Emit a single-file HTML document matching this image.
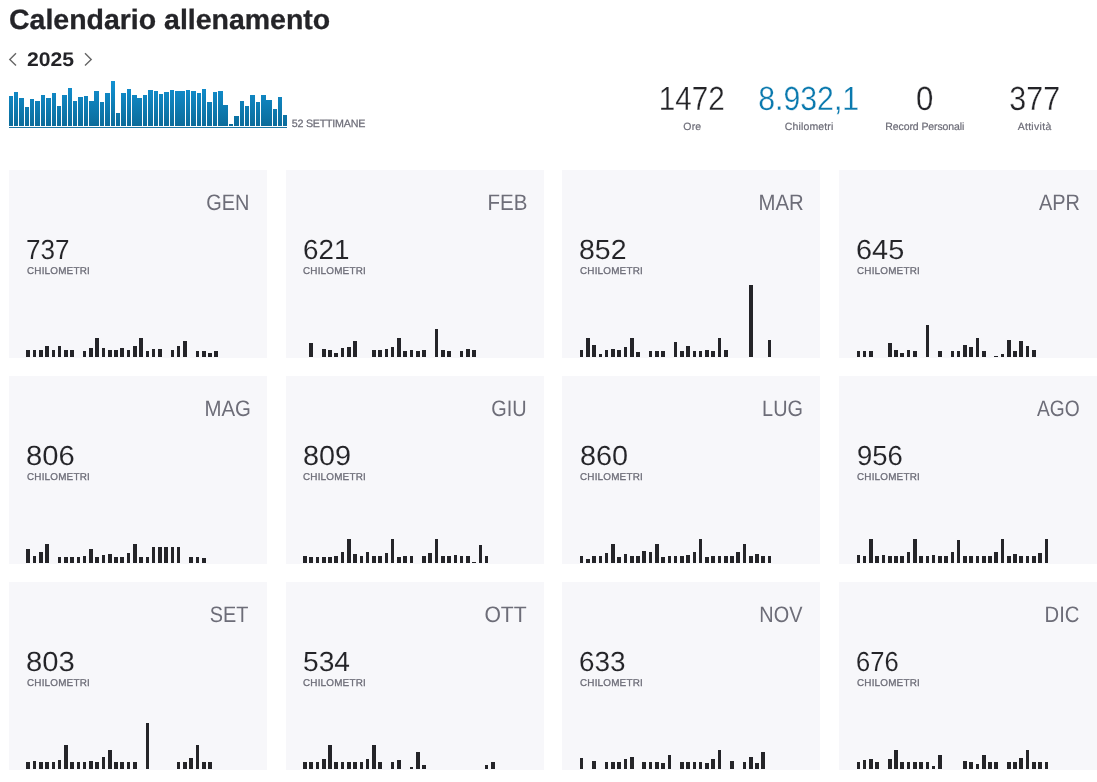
<!DOCTYPE html>
<html lang="it"><head><meta charset="utf-8"><title>Calendario allenamento</title>
<style>
html,body{margin:0;padding:0;background:#fff;}
body{width:1097px;height:782px;position:relative;overflow:hidden;font-family:"Liberation Sans",Arial,sans-serif;color:#242428;text-rendering:geometricPrecision;}
.abs{position:absolute;white-space:nowrap;line-height:1;}
h1{position:absolute;margin:0;left:8.6px;top:4.7px;font-size:28px;font-weight:700;line-height:30px;white-space:nowrap;color:#242428;transform:scaleX(1.017);transform-origin:0 0;-webkit-text-stroke:0.3px #242428;}
.year{left:26.5px;top:49px;font-size:19.7px;font-weight:700;line-height:20px;color:#242428;transform:translateY(0.7px) scaleX(1.075);transform-origin:0 0;}
.wk{left:291.7px;top:118px;font-size:10.7px;line-height:10px;color:#6d6d78;letter-spacing:-0.22px;-webkit-text-stroke:0.25px #6d6d78;transform:translateY(0.9px);}
.stat{position:absolute;top:81.8px;width:140px;text-align:center;}
.stat .n{font-size:33.6px;line-height:34px;color:#242428;white-space:nowrap;-webkit-text-stroke:0.3px #fff;}
.stat .l{font-size:10.5px;line-height:12px;color:#6d6d78;margin-top:4px;white-space:nowrap;-webkit-text-stroke:0.2px #6d6d78;transform:translateY(0.6px);}
.stat.blue .n{color:#0a79ae;}
.card{position:absolute;width:258px;height:187.7px;background:#f7f7fa;}
.card .m{position:absolute;right:17.8px;top:21.2px;font-size:22.35px;line-height:24px;color:#6d6d78;white-space:nowrap;transform:scaleX(0.88);transform-origin:100% 0;}
.card .v{position:absolute;left:16.7px;top:65.4px;font-size:27.6px;line-height:28px;color:#242428;white-space:nowrap;transform-origin:0 0;-webkit-text-stroke:0.1px #f7f7fa;}
.card .u{position:absolute;left:17.7px;top:96.1px;font-size:9.9px;line-height:12px;color:#6d6d78;white-space:nowrap;letter-spacing:0.19px;-webkit-text-stroke:0.3px #6d6d78;transform:translateY(0.2px) scaleX(1.002);transform-origin:0 0;}
svg{position:absolute;left:0;top:0;}
</style></head><body>
<h1>Calendario allenamento</h1>
<div class="abs year">2025</div>
<div class="card" style="left:9px;top:170px"><div class="m" style="right:17.4px;transform:scaleX(0.893)">GEN</div><div class="v" style="left:16.7px;transform:translateY(0.7px) scaleX(0.944)">737</div><div class="u">CHILOMETRI</div></div>
<div class="card" style="left:285.67px;top:170px"><div class="m" style="right:16.7px;transform:scaleX(0.919)">FEB</div><div class="v" style="left:17.0px;transform:translateY(0.7px) scaleX(1.009)">621</div><div class="u">CHILOMETRI</div></div>
<div class="card" style="left:562.33px;top:170px"><div class="m" style="right:17.1px;transform:scaleX(0.91)">MAR</div><div class="v" style="left:17.1px;transform:translateY(0.7px) scaleX(1.033)">852</div><div class="u">CHILOMETRI</div></div>
<div class="card" style="left:839px;top:170px"><div class="m" style="right:16.9px;transform:scaleX(0.893)">APR</div><div class="v" style="left:16.6px;transform:translateY(0.7px) scaleX(1.047)">645</div><div class="u">CHILOMETRI</div></div>
<div class="card" style="left:9px;top:376px"><div class="m" style="right:15.7px;transform:scaleX(0.913)">MAG</div><div class="v" style="left:17.2px;transform:translateY(0.7px) scaleX(1.06)">806</div><div class="u">CHILOMETRI</div></div>
<div class="card" style="left:285.67px;top:376px"><div class="m" style="right:16.5px;transform:scaleX(0.891)">GIU</div><div class="v" style="left:17.7px;transform:translateY(0.7px) scaleX(1.044)">809</div><div class="u">CHILOMETRI</div></div>
<div class="card" style="left:562.33px;top:376px"><div class="m" style="right:17.5px;transform:scaleX(0.889)">LUG</div><div class="v" style="left:17.3px;transform:translateY(0.7px) scaleX(1.046)">860</div><div class="u">CHILOMETRI</div></div>
<div class="card" style="left:839px;top:376px"><div class="m" style="right:17.4px;transform:scaleX(0.858)">AGO</div><div class="v" style="left:17.7px;transform:translateY(0.7px) scaleX(0.995)">956</div><div class="u">CHILOMETRI</div></div>
<div class="card" style="left:9px;top:582px"><div class="m" style="right:18.4px;transform:scaleX(0.889)">SET</div><div class="v" style="left:17.2px;transform:translateY(0.7px) scaleX(1.06)">803</div><div class="u">CHILOMETRI</div></div>
<div class="card" style="left:285.67px;top:582px"><div class="m" style="right:17.0px;transform:scaleX(0.946)">OTT</div><div class="v" style="left:17.4px;transform:translateY(0.7px) scaleX(1.021)">534</div><div class="u">CHILOMETRI</div></div>
<div class="card" style="left:562.33px;top:582px"><div class="m" style="right:18.3px;transform:scaleX(0.889)">NOV</div><div class="v" style="left:17.1px;transform:translateY(0.7px) scaleX(1.011)">633</div><div class="u">CHILOMETRI</div></div>
<div class="card" style="left:839px;top:582px"><div class="m" style="right:17.3px;transform:scaleX(0.906)">DIC</div><div class="v" style="left:16.9px;transform:translateY(0.7px) scaleX(0.926)">676</div><div class="u">CHILOMETRI</div></div>
<svg width="1097" height="782" viewBox="0 0 1097 782">
<defs><linearGradient id="g" gradientUnits="userSpaceOnUse" x1="0" y1="80" x2="0" y2="127"><stop offset="0" stop-color="#1292d4"/><stop offset="1" stop-color="#0b6b99"/></linearGradient></defs>
<path d="M16 53.3 L9.8 59.4 L16 65.5" fill="none" stroke="#666" stroke-width="1.4"/>
<path d="M85 53.3 L91.2 59.4 L85 65.5" fill="none" stroke="#666" stroke-width="1.4"/>
<g fill="url(#g)" shape-rendering="crispEdges">
<rect x="9" y="96" width="4" height="30"/><rect x="14" y="92" width="4" height="34"/><rect x="19" y="98" width="5" height="28"/><rect x="25" y="107" width="4" height="19"/><rect x="30" y="99" width="4" height="27"/><rect x="35" y="101" width="5" height="25"/><rect x="41" y="95" width="4" height="31"/><rect x="46" y="98" width="5" height="28"/><rect x="52" y="93" width="4" height="33"/><rect x="57" y="106" width="4" height="20"/><rect x="62" y="95" width="5" height="31"/><rect x="68" y="88" width="4" height="38"/><rect x="73" y="101" width="4" height="25"/><rect x="78" y="97" width="5" height="29"/><rect x="84" y="96" width="4" height="30"/><rect x="89" y="101" width="5" height="25"/><rect x="94" y="91" width="5" height="35"/><rect x="100" y="102" width="4" height="24"/><rect x="105" y="93" width="5" height="33"/><rect x="111" y="81" width="4" height="45"/><rect x="116" y="113" width="4" height="13"/><rect x="121" y="93" width="5" height="33"/><rect x="127" y="89" width="4" height="37"/><rect x="132" y="95" width="5" height="31"/><rect x="137" y="98" width="5" height="28"/><rect x="143" y="95" width="4" height="31"/><rect x="148" y="90" width="5" height="36"/><rect x="154" y="91" width="4" height="35"/><rect x="159" y="94" width="4" height="32"/><rect x="164" y="92" width="5" height="34"/><rect x="170" y="90" width="4" height="36"/><rect x="175" y="91" width="5" height="35"/><rect x="180" y="91" width="5" height="35"/><rect x="186" y="90" width="4" height="36"/><rect x="191" y="91" width="5" height="35"/><rect x="197" y="93" width="4" height="33"/><rect x="202" y="89" width="4" height="37"/><rect x="207" y="102" width="5" height="24"/><rect x="213" y="92" width="4" height="34"/><rect x="218" y="91" width="5" height="35"/><rect x="223" y="105" width="5" height="21"/><rect x="229" y="124" width="4" height="2"/><rect x="234" y="116" width="5" height="10"/><rect x="240" y="101" width="4" height="25"/><rect x="245" y="106" width="4" height="20"/><rect x="250" y="95" width="5" height="31"/><rect x="256" y="102" width="4" height="24"/><rect x="261" y="95" width="5" height="31"/><rect x="266" y="100" width="6" height="26"/><rect x="273" y="109" width="4" height="17"/><rect x="278" y="97" width="4" height="29"/><rect x="283" y="115" width="4" height="11"/>
<rect x="9" y="127" width="278" height="1" fill="#1c76a3"/>
</g>
<g fill="#242428" shape-rendering="crispEdges">
<rect x="26" y="350" width="4" height="7"/><rect x="33" y="350" width="3" height="7"/><rect x="39" y="350" width="4" height="7"/><rect x="45" y="346" width="4" height="11"/><rect x="52" y="350" width="3" height="7"/><rect x="58" y="346" width="3" height="11"/><rect x="64" y="350" width="4" height="7"/><rect x="70" y="350" width="4" height="7"/><rect x="83" y="351" width="3" height="6"/><rect x="89" y="348" width="4" height="9"/><rect x="95" y="338" width="4" height="19"/><rect x="102" y="348" width="3" height="9"/><rect x="108" y="350" width="4" height="7"/><rect x="114" y="350" width="4" height="7"/><rect x="120" y="348" width="4" height="9"/><rect x="127" y="350" width="3" height="7"/><rect x="133" y="346" width="4" height="11"/><rect x="139" y="338" width="4" height="19"/><rect x="146" y="351" width="3" height="6"/><rect x="152" y="349" width="3" height="8"/><rect x="158" y="349" width="4" height="8"/><rect x="171" y="350" width="3" height="7"/><rect x="177" y="346" width="3" height="11"/><rect x="183" y="341" width="4" height="16"/><rect x="196" y="351" width="3" height="6"/><rect x="202" y="351" width="4" height="6"/><rect x="208" y="353" width="4" height="4"/><rect x="214" y="351" width="4" height="6"/>
<rect x="309" y="343" width="4" height="14"/><rect x="322" y="349" width="4" height="8"/><rect x="328" y="350" width="4" height="7"/><rect x="334" y="353" width="4" height="4"/><rect x="341" y="348" width="3" height="9"/><rect x="347" y="347" width="4" height="10"/><rect x="353" y="341" width="4" height="16"/><rect x="372" y="350" width="4" height="7"/><rect x="378" y="350" width="4" height="7"/><rect x="385" y="349" width="3" height="8"/><rect x="391" y="347" width="3" height="10"/><rect x="397" y="338" width="4" height="19"/><rect x="403" y="351" width="4" height="6"/><rect x="410" y="350" width="3" height="7"/><rect x="416" y="351" width="4" height="6"/><rect x="422" y="350" width="4" height="7"/><rect x="435" y="329" width="3" height="28"/><rect x="441" y="350" width="4" height="7"/><rect x="447" y="351" width="4" height="6"/><rect x="460" y="351" width="3" height="6"/><rect x="466" y="349" width="4" height="8"/><rect x="472" y="350" width="4" height="7"/>
<rect x="580" y="350" width="3" height="7"/><rect x="586" y="338" width="4" height="19"/><rect x="592" y="345" width="4" height="12"/><rect x="599" y="354" width="3" height="3"/><rect x="605" y="350" width="3" height="7"/><rect x="611" y="349" width="4" height="8"/><rect x="617" y="350" width="4" height="7"/><rect x="624" y="347" width="3" height="10"/><rect x="630" y="338" width="4" height="19"/><rect x="636" y="352" width="4" height="5"/><rect x="649" y="351" width="3" height="6"/><rect x="655" y="351" width="4" height="6"/><rect x="661" y="351" width="4" height="6"/><rect x="674" y="342" width="3" height="15"/><rect x="680" y="351" width="4" height="6"/><rect x="686" y="346" width="4" height="11"/><rect x="693" y="351" width="3" height="6"/><rect x="699" y="351" width="3" height="6"/><rect x="705" y="350" width="4" height="7"/><rect x="711" y="351" width="4" height="6"/><rect x="718" y="338" width="3" height="19"/><rect x="724" y="350" width="4" height="7"/><rect x="749" y="285" width="4" height="72"/><rect x="768" y="340" width="3" height="17"/>
<rect x="857" y="351" width="3" height="6"/><rect x="863" y="351" width="3" height="6"/><rect x="869" y="351" width="4" height="6"/><rect x="888" y="343" width="4" height="14"/><rect x="894" y="350" width="4" height="7"/><rect x="900" y="353" width="4" height="4"/><rect x="907" y="350" width="3" height="7"/><rect x="913" y="351" width="4" height="6"/><rect x="926" y="325" width="3" height="32"/><rect x="938" y="351" width="4" height="6"/><rect x="951" y="351" width="3" height="6"/><rect x="957" y="351" width="3" height="6"/><rect x="963" y="345" width="4" height="12"/><rect x="969" y="347" width="4" height="10"/><rect x="976" y="338" width="3" height="19"/><rect x="982" y="351" width="4" height="6"/><rect x="994" y="356" width="4" height="1"/><rect x="1001" y="354" width="3" height="3"/><rect x="1007" y="340" width="4" height="17"/><rect x="1013" y="351" width="4" height="6"/><rect x="1019" y="341" width="4" height="16"/><rect x="1026" y="346" width="3" height="11"/><rect x="1032" y="350" width="4" height="7"/>
<rect x="26" y="549" width="4" height="14"/><rect x="33" y="556" width="3" height="7"/><rect x="39" y="552" width="4" height="11"/><rect x="45" y="544" width="4" height="19"/><rect x="58" y="557" width="3" height="6"/><rect x="64" y="557" width="4" height="6"/><rect x="70" y="557" width="4" height="6"/><rect x="77" y="557" width="3" height="6"/><rect x="83" y="556" width="3" height="7"/><rect x="89" y="549" width="4" height="14"/><rect x="95" y="557" width="4" height="6"/><rect x="102" y="555" width="3" height="8"/><rect x="108" y="554" width="4" height="9"/><rect x="114" y="557" width="4" height="6"/><rect x="120" y="557" width="4" height="6"/><rect x="127" y="553" width="3" height="10"/><rect x="133" y="544" width="4" height="19"/><rect x="139" y="557" width="4" height="6"/><rect x="146" y="557" width="3" height="6"/><rect x="152" y="547" width="3" height="16"/><rect x="158" y="547" width="4" height="16"/><rect x="164" y="547" width="4" height="16"/><rect x="171" y="547" width="3" height="16"/><rect x="177" y="547" width="3" height="16"/><rect x="189" y="557" width="4" height="6"/><rect x="196" y="557" width="3" height="6"/><rect x="202" y="558" width="4" height="5"/>
<rect x="303" y="556" width="4" height="7"/><rect x="309" y="557" width="4" height="6"/><rect x="316" y="557" width="3" height="6"/><rect x="322" y="557" width="4" height="6"/><rect x="328" y="557" width="4" height="6"/><rect x="334" y="556" width="4" height="7"/><rect x="341" y="552" width="3" height="11"/><rect x="347" y="539" width="4" height="24"/><rect x="353" y="554" width="4" height="9"/><rect x="360" y="556" width="3" height="7"/><rect x="366" y="552" width="3" height="11"/><rect x="372" y="556" width="4" height="7"/><rect x="378" y="556" width="4" height="7"/><rect x="385" y="553" width="3" height="10"/><rect x="391" y="539" width="3" height="24"/><rect x="397" y="557" width="4" height="6"/><rect x="403" y="556" width="4" height="7"/><rect x="410" y="556" width="3" height="7"/><rect x="422" y="556" width="4" height="7"/><rect x="428" y="553" width="4" height="10"/><rect x="435" y="539" width="3" height="24"/><rect x="441" y="556" width="4" height="7"/><rect x="447" y="556" width="4" height="7"/><rect x="454" y="555" width="3" height="8"/><rect x="460" y="556" width="3" height="7"/><rect x="466" y="556" width="4" height="7"/><rect x="472" y="562" width="4" height="1"/><rect x="479" y="545" width="3" height="18"/><rect x="485" y="556" width="3" height="7"/>
<rect x="580" y="556" width="3" height="7"/><rect x="586" y="559" width="4" height="4"/><rect x="592" y="556" width="4" height="7"/><rect x="599" y="556" width="3" height="7"/><rect x="605" y="553" width="3" height="10"/><rect x="611" y="544" width="4" height="19"/><rect x="617" y="557" width="4" height="6"/><rect x="624" y="554" width="3" height="9"/><rect x="630" y="556" width="4" height="7"/><rect x="636" y="556" width="4" height="7"/><rect x="642" y="551" width="4" height="12"/><rect x="649" y="552" width="3" height="11"/><rect x="655" y="544" width="4" height="19"/><rect x="661" y="557" width="4" height="6"/><rect x="668" y="556" width="3" height="7"/><rect x="674" y="556" width="3" height="7"/><rect x="680" y="556" width="4" height="7"/><rect x="686" y="555" width="4" height="8"/><rect x="693" y="552" width="3" height="11"/><rect x="699" y="539" width="3" height="24"/><rect x="705" y="557" width="4" height="6"/><rect x="711" y="556" width="4" height="7"/><rect x="718" y="556" width="3" height="7"/><rect x="724" y="556" width="4" height="7"/><rect x="730" y="556" width="4" height="7"/><rect x="736" y="552" width="4" height="11"/><rect x="743" y="544" width="3" height="19"/><rect x="749" y="556" width="4" height="7"/><rect x="755" y="554" width="4" height="9"/><rect x="761" y="556" width="4" height="7"/><rect x="768" y="556" width="3" height="7"/>
<rect x="857" y="555" width="3" height="8"/><rect x="863" y="556" width="3" height="7"/><rect x="869" y="539" width="4" height="24"/><rect x="875" y="556" width="4" height="7"/><rect x="882" y="555" width="3" height="8"/><rect x="888" y="556" width="4" height="7"/><rect x="894" y="556" width="4" height="7"/><rect x="900" y="556" width="4" height="7"/><rect x="907" y="552" width="3" height="11"/><rect x="913" y="539" width="4" height="24"/><rect x="919" y="556" width="4" height="7"/><rect x="926" y="556" width="3" height="7"/><rect x="932" y="555" width="3" height="8"/><rect x="938" y="556" width="4" height="7"/><rect x="944" y="556" width="4" height="7"/><rect x="951" y="552" width="3" height="11"/><rect x="957" y="540" width="3" height="23"/><rect x="963" y="556" width="4" height="7"/><rect x="969" y="556" width="4" height="7"/><rect x="976" y="556" width="3" height="7"/><rect x="982" y="556" width="4" height="7"/><rect x="988" y="556" width="4" height="7"/><rect x="994" y="552" width="4" height="11"/><rect x="1001" y="539" width="3" height="24"/><rect x="1007" y="556" width="4" height="7"/><rect x="1013" y="554" width="4" height="9"/><rect x="1019" y="556" width="4" height="7"/><rect x="1026" y="556" width="3" height="7"/><rect x="1032" y="556" width="4" height="7"/><rect x="1038" y="553" width="4" height="10"/><rect x="1045" y="539" width="3" height="24"/>
<rect x="26" y="762" width="4" height="7"/><rect x="33" y="761" width="3" height="8"/><rect x="39" y="762" width="4" height="7"/><rect x="45" y="762" width="4" height="7"/><rect x="52" y="762" width="3" height="7"/><rect x="58" y="760" width="3" height="9"/><rect x="64" y="745" width="4" height="24"/><rect x="70" y="762" width="4" height="7"/><rect x="77" y="762" width="3" height="7"/><rect x="83" y="762" width="3" height="7"/><rect x="89" y="761" width="4" height="8"/><rect x="95" y="762" width="4" height="7"/><rect x="102" y="757" width="3" height="12"/><rect x="108" y="750" width="4" height="19"/><rect x="114" y="762" width="4" height="7"/><rect x="120" y="762" width="4" height="7"/><rect x="127" y="762" width="3" height="7"/><rect x="133" y="762" width="4" height="7"/><rect x="146" y="723" width="3" height="46"/><rect x="177" y="762" width="3" height="7"/><rect x="183" y="762" width="4" height="7"/><rect x="189" y="758" width="4" height="11"/><rect x="196" y="745" width="3" height="24"/><rect x="202" y="762" width="4" height="7"/><rect x="208" y="762" width="4" height="7"/>
<rect x="303" y="762" width="4" height="7"/><rect x="309" y="762" width="4" height="7"/><rect x="316" y="762" width="3" height="7"/><rect x="322" y="759" width="4" height="10"/><rect x="328" y="745" width="4" height="24"/><rect x="334" y="762" width="4" height="7"/><rect x="341" y="762" width="3" height="7"/><rect x="347" y="762" width="4" height="7"/><rect x="353" y="762" width="4" height="7"/><rect x="360" y="762" width="3" height="7"/><rect x="366" y="759" width="3" height="10"/><rect x="372" y="745" width="4" height="24"/><rect x="378" y="762" width="4" height="7"/><rect x="391" y="762" width="3" height="7"/><rect x="397" y="760" width="4" height="9"/><rect x="410" y="767" width="3" height="2"/><rect x="416" y="752" width="4" height="17"/><rect x="422" y="765" width="4" height="4"/><rect x="485" y="765" width="3" height="4"/><rect x="491" y="762" width="4" height="7"/>
<rect x="580" y="758" width="3" height="11"/><rect x="592" y="761" width="4" height="8"/><rect x="605" y="762" width="3" height="7"/><rect x="611" y="762" width="4" height="7"/><rect x="617" y="762" width="4" height="7"/><rect x="624" y="759" width="3" height="10"/><rect x="630" y="757" width="4" height="12"/><rect x="642" y="762" width="4" height="7"/><rect x="649" y="762" width="3" height="7"/><rect x="655" y="762" width="4" height="7"/><rect x="661" y="763" width="4" height="6"/><rect x="668" y="755" width="3" height="14"/><rect x="680" y="762" width="4" height="7"/><rect x="686" y="762" width="4" height="7"/><rect x="693" y="762" width="3" height="7"/><rect x="699" y="762" width="3" height="7"/><rect x="705" y="763" width="4" height="6"/><rect x="711" y="759" width="4" height="10"/><rect x="718" y="750" width="3" height="19"/><rect x="730" y="761" width="4" height="8"/><rect x="743" y="762" width="3" height="7"/><rect x="749" y="757" width="4" height="12"/><rect x="755" y="763" width="4" height="6"/><rect x="761" y="752" width="4" height="17"/>
<rect x="857" y="762" width="3" height="7"/><rect x="863" y="760" width="3" height="9"/><rect x="869" y="759" width="4" height="10"/><rect x="875" y="762" width="4" height="7"/><rect x="888" y="759" width="4" height="10"/><rect x="894" y="750" width="4" height="19"/><rect x="900" y="762" width="4" height="7"/><rect x="907" y="762" width="3" height="7"/><rect x="913" y="762" width="4" height="7"/><rect x="919" y="762" width="4" height="7"/><rect x="926" y="762" width="3" height="7"/><rect x="932" y="766" width="3" height="3"/><rect x="938" y="755" width="4" height="14"/><rect x="963" y="761" width="4" height="8"/><rect x="969" y="762" width="4" height="7"/><rect x="976" y="764" width="3" height="5"/><rect x="982" y="755" width="4" height="14"/><rect x="988" y="762" width="4" height="7"/><rect x="994" y="762" width="4" height="7"/><rect x="1007" y="762" width="4" height="7"/><rect x="1013" y="762" width="4" height="7"/><rect x="1019" y="758" width="4" height="11"/><rect x="1026" y="750" width="3" height="19"/><rect x="1032" y="762" width="4" height="7"/><rect x="1038" y="762" width="4" height="7"/><rect x="1045" y="762" width="3" height="7"/>
</g>
</svg>
<div class="abs wk">52 SETTIMANE</div>
<div class="stat " style="left:622.3px"><div class="n" style="transform:translate(-0.3px,1px) scaleX(0.884)">1472</div><div class="l" style="letter-spacing:0.15px">Ore</div></div>
<div class="stat blue" style="left:739.1px"><div class="n" style="transform:translate(-0.3px,1px) scaleX(0.9)">8.932,1</div><div class="l" style="letter-spacing:0.15px">Chilometri</div></div>
<div class="stat " style="left:854.8px"><div class="n" style="transform:translate(-0.3px,1px) scaleX(0.93)">0</div><div class="l" style="letter-spacing:-0.1px">Record Personali</div></div>
<div class="stat " style="left:964.5999999999999px"><div class="n" style="transform:translate(-0.3px,1px) scaleX(0.905)">377</div><div class="l" style="letter-spacing:0.3px">Attività</div></div>
</body></html>
